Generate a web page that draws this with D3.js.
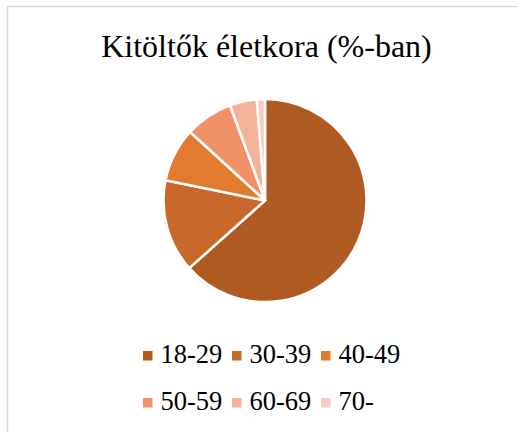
<!DOCTYPE html>
<html>
<head>
<meta charset="utf-8">
<script src="https://cdn.jsdelivr.net/npm/d3@7"></script>
<style>
  body { margin: 0; background: #fff; }
  svg text { font-family: "Liberation Serif", "Times New Roman", serif; fill: #000; }
</style>
</head>
<body>
<div id="chart"></div>
<script>
// chart size
const FRAME_WIDTH = 517;
const FRAME_HEIGHT = 432;

// data
const categories = ["18-29", "30-39", "40-49", "50-59", "60-69", "70-"];
const shares = [63.4, 14.8, 8.6, 7.6, 4.3, 1.3];
const colours = ["#AE5A21", "#C8692B", "#E27A30", "#F09167", "#F4B29A", "#F8CCBE"];
const title = "Kitöltők életkora (%-ban)";

const data = categories.map((c, i) => ({cat: c, value: shares[i]}));

const FRAME = d3.select("#chart")
                .append("svg")
                  .attr("width", FRAME_WIDTH)
                  .attr("height", FRAME_HEIGHT);

// chart area border (runs off the right and bottom)
FRAME.append("rect")
     .attr("x", 7.5)
     .attr("y", 6.5)
     .attr("width", FRAME_WIDTH + 10)
     .attr("height", FRAME_HEIGHT + 10)
     .attr("fill", "none")
     .attr("stroke", "#d9d9d9")
     .attr("stroke-width", 1.5);

// title
FRAME.append("text")
     .attr("x", 266.5)
     .attr("y", 57)
     .attr("text-anchor", "middle")
     .attr("font-size", "32px")
     .text(title);

// pie
const COLOR = d3.scaleOrdinal().domain(categories).range(colours);
const pie = d3.pie().sort(null).value((d) => d.value);
const arc = d3.arc().innerRadius(0).outerRadius(101.5);

FRAME.append("g")
     .attr("transform", "translate(265,200.5)")
     .selectAll("path")
     .data(pie(data))
     .enter()
     .append("path")
       .attr("d", arc)
       .attr("fill", (d) => COLOR(d.data.cat))
       .attr("stroke", "#fff")
       .attr("stroke-width", 2.5)
       .attr("stroke-linejoin", "round");

// legend, 3 per row
const COL_X = d3.scalePoint().domain([0, 1, 2]).range([143, 321]);
const ROW_Y = d3.scalePoint().domain([0, 1]).range([363, 410]);

const legend = FRAME.append("g")
     .selectAll("g")
     .data(categories)
     .enter()
     .append("g")
       .attr("transform", (d, i) => "translate(" + COL_X(i % 3) + "," + ROW_Y(Math.floor(i / 3)) + ")");

legend.append("rect")
      .attr("x", 0)
      .attr("y", -12)
      .attr("width", 9.5)
      .attr("height", 9.5)
      .attr("fill", (d) => COLOR(d));

legend.append("text")
      .attr("x", 17.5)
      .attr("y", 0)
      .attr("font-size", "26.5px")
      .text((d) => d);
</script>
</body>
</html>
